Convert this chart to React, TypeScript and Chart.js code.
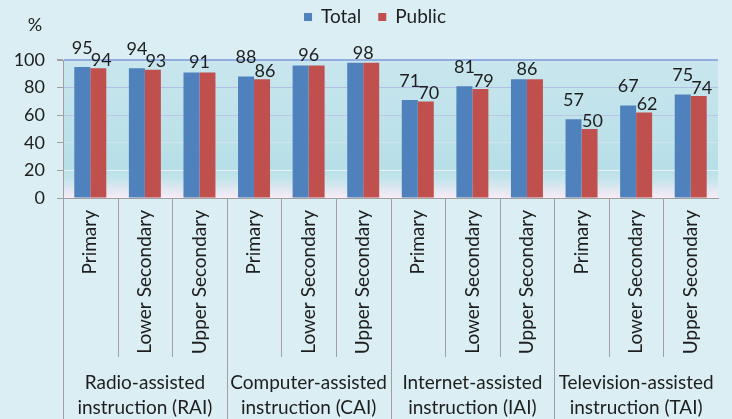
import React, { useEffect, useRef } from "react";
import { Chart, registerables } from "chart.js";

Chart.register(...registerables);

// ---------- data ----------
const subCategories = [
  "Primary", "Lower Secondary", "Upper Secondary",
  "Primary", "Lower Secondary", "Upper Secondary",
  "Primary", "Lower Secondary", "Upper Secondary",
  "Primary", "Lower Secondary", "Upper Secondary",
];
const groupLabels = [
  ["Radio-assisted", "instruction (RAI)"],
  ["Computer-assisted", "instruction (CAI)"],
  ["Internet-assisted", "instruction (IAI)"],
  ["Television-assisted", "instruction (TAI)"],
];
const seriesNames = ["Total", "Public"];
const totalValues = [95, 94, 91, 88, 96, 98, 71, 81, 86, 57, 67, 75];
const publicValues = [94, 93, 91, 86, 96, 98, 70, 79, 86, 50, 62, 74];
const yTickValues = [0, 20, 40, 60, 80, 100];
const unitLabel = "%";

// ---------- styles ----------
const FONT = "Lato, Carlito, 'Open Sans', sans-serif";
const FONT_SIZE = 19;
const TICK_SIZE = 18;
const TEXT = "#1e1e1e";
const AXIS = "#a0a0a0";
const COLORS = ["#4f81bd", "#c0504d"];
const GRID_COLORS: Record<number, string> = {
  100: "#92aee0",
  80: "#b3bfe6",
  60: "#bcc7e8",
  40: "#d3e4ef",
  20: "#e8f2f6",
  0: "rgba(0,0,0,0)",
};

const decorPlugin = {
  id: "decor",
  beforeDraw(chart: any) {
    const { ctx, chartArea: a } = chart;
    const g = ctx.createLinearGradient(0, a.top, 0, a.bottom);
    g.addColorStop(0, "#c9e6ee");
    g.addColorStop(0.78, "#b7dfe7");
    g.addColorStop(0.86, "#c3e4eb");
    g.addColorStop(1, "#f8ebf6");
    ctx.save();
    ctx.fillStyle = g;
    ctx.fillRect(a.left, a.top, a.right - a.left, a.bottom - a.top);
    ctx.restore();
  },
  afterDraw(chart: any) {
    const { ctx, chartArea: a } = chart;
    const xs = chart.scales.x;
    const bottom = chart.height;
    ctx.save();

    // category separator lines below the axis
    ctx.strokeStyle = AXIS;
    ctx.lineWidth = 1;
    const n = subCategories.length;
    for (let b = 0; b < n; b++) {
      const x = Math.round(xs.getPixelForValue(b - 0.5)) + 0.5;
      const yEnd = b % 3 === 0 ? bottom : bottom - 62;
      ctx.beginPath();
      ctx.moveTo(x, a.bottom);
      ctx.lineTo(x, yEnd);
      ctx.stroke();
    }

    // group labels
    ctx.fillStyle = TEXT;
    ctx.font = `${FONT_SIZE}px ${FONT}`;
    ctx.textAlign = "center";
    ctx.textBaseline = "middle";
    groupLabels.forEach((lines, gi) => {
      const cx = xs.getPixelForValue(gi * 3 + 1);
      ctx.fillText(lines[0], cx, bottom - 36);
      ctx.fillText(lines[1], cx, bottom - 11);
    });

    // data labels
    ctx.font = `${TICK_SIZE}px ${FONT}`;
    const m0 = chart.getDatasetMeta(0).data;
    const m1 = chart.getDatasetMeta(1).data;
    const d0 = chart.data.datasets[0].data as number[];
    const d1 = chart.data.datasets[1].data as number[];
    for (let i = 0; i < n; i++) {
      const b0 = m0[i];
      const b1 = m1[i];
      if (d0[i] === d1[i]) {
        ctx.fillText(String(d0[i]), (b0.x + b1.x) / 2, Math.min(b0.y, b1.y) - 10);
      } else {
        ctx.fillText(String(d0[i]), b0.x, b0.y - 19);
        ctx.fillText(String(d1[i]), b1.x + 3, b1.y - 8);
      }
    }

    // unit label
    ctx.fillText(unitLabel, 35, 25);

    // legend
    ctx.font = `${FONT_SIZE}px ${FONT}`;
    ctx.textAlign = "left";
    const box = 8;
    const gapBoxText = 9;
    const gapItems = 17;
    const widths = chart.data.datasets.map((ds: any) => ctx.measureText(ds.label).width);
    const total =
      widths.reduce((s: number, w: number) => s + box + gapBoxText + w, 0) +
      gapItems * (widths.length - 1);
    let x = 375 - total / 2;
    const ly = 17;
    chart.data.datasets.forEach((ds: any, i: number) => {
      ctx.fillStyle = ds.backgroundColor;
      ctx.fillRect(x, ly - box / 2, box, box);
      x += box + gapBoxText;
      ctx.fillStyle = TEXT;
      ctx.fillText(ds.label, x, ly);
      x += widths[i] + gapItems;
    });

    ctx.restore();
  },
};

export default function App() {
  const ref = useRef<HTMLCanvasElement | null>(null);

  useEffect(() => {
    if (!ref.current) return;
    const chart = new Chart(ref.current, {
      type: "bar",
      data: {
        labels: subCategories,
        datasets: [
          {
            label: seriesNames[0],
            data: totalValues,
            backgroundColor: COLORS[0],
            categoryPercentage: 0.586,
            barPercentage: 1,
          },
          {
            label: seriesNames[1],
            data: publicValues,
            backgroundColor: COLORS[1],
            categoryPercentage: 0.586,
            barPercentage: 1,
          },
        ],
      },
      options: {
        responsive: false,
        animation: false,
        events: [],
        layout: { padding: { top: 60, right: 14, bottom: 0, left: 0 } },
        plugins: {
          legend: { display: false },
          tooltip: { enabled: false },
        },
        scales: {
          x: {
            afterFit: (s: any) => {
              s.height = 221;
            },
            grid: { display: true, drawOnChartArea: false, drawTicks: false },
            border: { display: true, color: AXIS, width: 1 },
            ticks: {
              autoSkip: false,
              minRotation: 90,
              maxRotation: 90,
              padding: 12,
              color: TEXT,
              font: { family: FONT, size: FONT_SIZE },
            },
          },
          y: {
            min: 0,
            max: 100,
            afterFit: (s: any) => {
              s.width = 63;
            },
            afterBuildTicks: (s: any) => {
              s.ticks = yTickValues.map((v) => ({ value: v }));
            },
            grid: {
              color: (c: any) => GRID_COLORS[c.tick?.value] ?? "#c0c8e8",
              lineWidth: (c: any) => (c.tick?.value === 100 ? 2 : 1),
              tickLength: 6,
              tickColor: AXIS,
            },
            border: { display: true, color: AXIS, width: 1 },
            ticks: {
              padding: 12,
              color: TEXT,
              font: { family: FONT, size: TICK_SIZE },
            },
          },
        },
      },
      plugins: [decorPlugin],
    });
    return () => chart.destroy();
  }, []);

  return (
    <div
      style={{
        position: "fixed",
        left: 0,
        top: 0,
        width: 732,
        height: 419,
        background: "#daeef3",
      }}
    >
      <canvas ref={ref} width={732} height={419} style={{ display: "block" }} />
    </div>
  );
}
